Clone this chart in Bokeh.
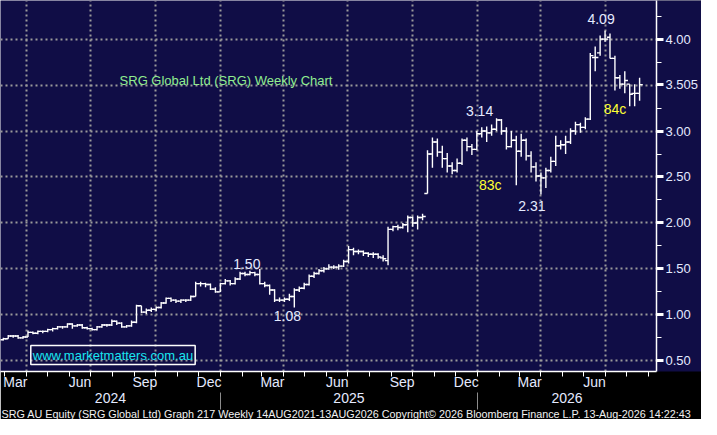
import pandas as pd
from bokeh.plotting import figure
from bokeh.models import (FixedTicker, SingleIntervalTicker, LinearAxis, Label, Title,
                          PrintfTickFormatter, Range1d, ColumnDataSource)
from bokeh.embed import file_html
from bokeh.resources import INLINE

# ---------------- data (weekly OHLC, SRG AU) ----------------
first_bar = "2024-02-28"
opens = [0.73, 0.74, 0.77, 0.77, 0.75, 0.76, 0.81, 0.80, 0.82, 0.82,
         0.84, 0.85, 0.87, 0.87, 0.90, 0.88, 0.89, 0.86, 0.85, 0.84,
         0.87, 0.89, 0.89, 0.93, 0.91, 0.87, 0.88, 0.92, 1.10, 1.03,
         1.05, 1.06, 1.08, 1.13, 1.18, 1.16, 1.15, 1.16, 1.16, 1.20,
         1.34, 1.34, 1.33, 1.28, 1.25, 1.34, 1.37, 1.34, 1.39, 1.45,
         1.44, 1.46, 1.44, 1.34, 1.32, 1.27, 1.16, 1.16, 1.17, 1.20,
         1.27, 1.29, 1.33, 1.42, 1.45, 1.48, 1.50, 1.52, 1.52, 1.53,
         1.58, 1.71, 1.69, 1.69, 1.67, 1.66, 1.66, 1.62, 1.59, 1.93,
         1.96, 1.95, 1.98, 2.06, 2.00, 2.06, 2.32, 2.75, 2.88, 2.77,
         2.70, 2.62, 2.57, 2.65, 2.90, 2.83, 2.80, 2.97, 3.00, 2.98,
         3.02, 3.12, 3.00, 2.83, 2.90, 2.78, 2.90, 2.73, 2.61, 2.51,
         2.49, 2.57, 2.67, 2.84, 2.85, 2.88, 3.00, 3.07, 3.04, 3.13,
         3.80, 3.85, 4.00, 4.02, 3.79, 3.58, 3.51, 3.51, 3.41, 3.41]
highs = [0.75, 0.78, 0.78, 0.78, 0.77, 0.83, 0.82, 0.83, 0.83, 0.85,
         0.86, 0.88, 0.88, 0.91, 0.91, 0.90, 0.90, 0.87, 0.86, 0.88,
         0.90, 0.90, 0.95, 0.94, 0.92, 0.89, 0.94, 1.11, 1.10, 1.07,
         1.08, 1.09, 1.14, 1.19, 1.19, 1.17, 1.17, 1.17, 1.21, 1.36,
         1.36, 1.35, 1.34, 1.30, 1.35, 1.39, 1.38, 1.41, 1.47, 1.47,
         1.48, 1.47, 1.50, 1.36, 1.33, 1.28, 1.19, 1.19, 1.23, 1.29,
         1.31, 1.35, 1.44, 1.47, 1.50, 1.52, 1.55, 1.54, 1.55, 1.60,
         1.75, 1.73, 1.71, 1.70, 1.68, 1.68, 1.67, 1.65, 1.96, 1.97,
         1.98, 2.00, 2.08, 2.07, 2.08, 2.10, 2.79, 2.93, 2.92, 2.84,
         2.76, 2.66, 2.70, 2.92, 2.93, 2.86, 3.00, 3.04, 3.05, 3.07,
         3.14, 3.13, 3.04, 3.00, 2.95, 2.97, 2.92, 2.78, 2.66, 2.55,
         2.60, 2.72, 2.95, 2.90, 2.95, 3.03, 3.10, 3.09, 3.15, 3.85,
         3.92, 4.04, 4.09, 4.06, 3.82, 3.61, 3.65, 3.51, 3.51, 3.58]
lows = [0.72, 0.74, 0.75, 0.74, 0.74, 0.76, 0.79, 0.79, 0.80, 0.81,
        0.82, 0.84, 0.85, 0.86, 0.85, 0.87, 0.85, 0.84, 0.83, 0.83,
        0.86, 0.87, 0.88, 0.89, 0.86, 0.86, 0.87, 0.91, 1.02, 1.01,
        1.03, 1.04, 1.07, 1.12, 1.14, 1.13, 1.13, 1.14, 1.15, 1.20,
        1.31, 1.30, 1.27, 1.24, 1.25, 1.33, 1.32, 1.33, 1.38, 1.42,
        1.43, 1.42, 1.33, 1.30, 1.22, 1.14, 1.14, 1.14, 1.15, 1.08,
        1.25, 1.28, 1.32, 1.40, 1.44, 1.46, 1.49, 1.50, 1.49, 1.52,
        1.56, 1.65, 1.66, 1.64, 1.63, 1.62, 1.61, 1.58, 1.54, 1.91,
        1.92, 1.94, 1.90, 1.96, 1.93, 2.03, 2.32, 2.60, 2.72, 2.60,
        2.55, 2.53, 2.55, 2.63, 2.78, 2.74, 2.79, 2.93, 2.88, 2.95,
        3.00, 2.96, 2.80, 2.82, 2.41, 2.72, 2.68, 2.55, 2.45, 2.31,
        2.38, 2.55, 2.62, 2.80, 2.75, 2.86, 2.96, 2.98, 3.02, 3.12,
        3.65, 3.82, 3.97, 3.79, 3.44, 3.46, 3.41, 3.27, 3.27, 3.33]
closes = [0.74, 0.77, 0.77, 0.75, 0.76, 0.81, 0.80, 0.82, 0.82, 0.84,
          0.85, 0.87, 0.87, 0.90, 0.88, 0.89, 0.86, 0.85, 0.84, 0.87,
          0.89, 0.89, 0.93, 0.91, 0.87, 0.88, 0.92, 1.10, 1.03, 1.05,
          1.06, 1.08, 1.13, 1.18, 1.16, 1.15, 1.16, 1.16, 1.20, 1.34,
          1.34, 1.33, 1.28, 1.25, 1.34, 1.37, 1.34, 1.39, 1.45, 1.44,
          1.46, 1.44, 1.34, 1.32, 1.27, 1.16, 1.16, 1.17, 1.20, 1.27,
          1.29, 1.33, 1.42, 1.45, 1.48, 1.50, 1.52, 1.52, 1.53, 1.58,
          1.71, 1.69, 1.69, 1.67, 1.66, 1.66, 1.63, 1.61, 1.93, 1.96,
          1.95, 1.98, 2.06, 2.00, 2.06, 2.07, 2.75, 2.88, 2.77, 2.70,
          2.62, 2.57, 2.65, 2.90, 2.83, 2.80, 2.97, 3.00, 2.98, 3.02,
          3.12, 3.00, 2.83, 2.90, 2.78, 2.90, 2.73, 2.61, 2.51, 2.49,
          2.57, 2.67, 2.84, 2.85, 2.88, 3.00, 3.07, 3.04, 3.13, 3.82,
          3.80, 4.00, 4.00, 3.79, 3.58, 3.51, 3.55, 3.40, 3.41, 3.505]

last_price = 3.505
price_ticks = [0.5, 1.0, 1.5, 2.0, 2.5, 3.0, 4.0]
price_minor = [0.75, 1.25, 1.75, 2.25, 2.75, 3.25, 3.75, 4.25]
month_names = {3: "Mar", 6: "Jun", 9: "Sep", 12: "Dec"}
year_labels = ["2024", "2025", "2026"]
title_text = "SRG Global Ltd (SRG) Weekly Chart"
site_text = "www.marketmatters.com.au"
move_labels = ["83c", "84c"]
footer = ("SRG AU Equity (SRG Global Ltd) Graph 217 Weekly 14AUG2021-13AUG2026 "
          "Copyright\u00a9 2026 Bloomberg Finance L.P. 13-Aug-2026 14:22:43")

# ---------------- styling ----------------
NAVY = "#100d46"
TXT = "#e4eaff"
FONT = "Liberation Sans"

dates = pd.date_range(first_bar, periods=len(closes), freq="7D")
x_start = pd.Timestamp("2024-02-24")
x_end = pd.Timestamp("2026-09-12")


def ms(t):
    return float(pd.Timestamp(t).value // 10**6)


p = figure(width=701, height=419, x_axis_type="datetime", y_axis_location="right",
           x_range=Range1d(x_start, x_end), y_range=Range1d(0.384, 4.42),
           output_backend="svg", toolbar_location=None,
           min_border_left=0, min_border_top=0, min_border_right=42, min_border_bottom=0)
p.background_fill_color = NAVY
p.border_fill_color = "black"
p.outline_line_color = None

# grids
quarters = [ms(d) for d in pd.date_range("2024-01-01", "2026-12-01", freq="QS")]
p.xgrid.ticker = FixedTicker(ticks=quarters)
p.ygrid.ticker = SingleIntervalTicker(interval=0.5)
for g in (p.xgrid[0], p.ygrid[0]):
    g.grid_line_color = "#9a9a9a"
    g.grid_line_dash = "2 3"
    g.grid_line_width = 2

# right price axis (last price takes the place of the 3.50 label)
ya = p.yaxis[0]
ya.ticker = FixedTicker(ticks=sorted(price_ticks + [last_price]), minor_ticks=price_minor)
ya.formatter = PrintfTickFormatter(format="%.2f")
ya.major_label_overrides = {last_price: f"{last_price:.3f}"}
ya.axis_line_color = "white"
ya.axis_line_width = 1.5
ya.major_tick_out = 7
ya.major_tick_in = 0
ya.major_tick_line_width = 3
ya.major_tick_line_color = "white"
ya.minor_tick_out = 5
ya.minor_tick_in = 0
ya.minor_tick_line_color = "white"
ya.major_label_text_color = TXT
ya.major_label_text_font = FONT
ya.major_label_text_font_size = "13px"
ya.major_label_standoff = 2
ya.background_fill_color = NAVY

# month axis
months = pd.date_range("2024-03-01", "2026-09-01", freq="MS")
lab_pos = [m + pd.Timedelta(days=15) for m in months if m.month in month_names]
xa = p.xaxis[0]
xa.ticker = FixedTicker(ticks=[ms(d) for d in lab_pos], minor_ticks=[ms(m) for m in months])
xa.major_label_overrides = {ms(d): month_names[d.month] for d in lab_pos}
xa.axis_line_color = "white"
xa.axis_line_width = 1.5
xa.major_tick_out = 0
xa.major_tick_in = 0
xa.minor_tick_out = 5
xa.minor_tick_in = 0
xa.minor_tick_line_color = "white"
xa.major_label_text_color = TXT
xa.major_label_text_font = FONT
xa.major_label_text_font_size = "14px"
xa.major_label_standoff = -3

# year axis
bounds = [pd.Timestamp("2025-01-01"), pd.Timestamp("2026-01-01")]
edges = [x_start] + bounds + [x_end]
year_pos = [ms(edges[i]) / 2 + ms(edges[i + 1]) / 2 for i in range(len(year_labels))]
ya2 = LinearAxis(ticker=FixedTicker(ticks=year_pos, minor_ticks=[ms(b) for b in bounds]),
                 major_label_overrides={year_pos[i]: year_labels[i] for i in range(len(year_labels))})
ya2.axis_line_color = None
ya2.major_tick_line_color = None
ya2.major_tick_out = 0
ya2.minor_tick_out = 17
ya2.minor_tick_in = 0
ya2.minor_tick_line_color = "#8c8c8c"
ya2.minor_tick_line_width = 1
ya2.major_label_text_color = TXT
ya2.major_label_text_font = FONT
ya2.major_label_text_font_size = "14px"
ya2.major_label_standoff = -17
p.add_layout(ya2, "below")

p.add_layout(Title(text=footer, align="left", text_color="#f0f0f0", text_font=FONT,
                   text_font_size="10.8px", text_font_style="normal", text_line_height=1.0,
                   standoff=0, offset=1), "below")

# OHLC bars
tick = pd.Timedelta(days=4.5)
src = ColumnDataSource(dict(x=dates, xl=dates - tick, xr=dates + tick,
                            o=opens, h=highs, l=lows, c=closes))
p.segment(x0="x", y0="l", x1="x", y1="h", source=src, line_color="white", line_width=1.4)
p.segment(x0="xl", y0="o", x1="x", y1="o", source=src, line_color="white", line_width=1.4)
p.segment(x0="x", y0="c", x1="xr", y1="c", source=src, line_color="white", line_width=1.4)


def lab(x, y, text, color=TXT, size="14px", **kw):
    p.add_layout(Label(x=x, y=y, text=text, text_color=color, text_font=FONT,
                       text_font_size=size, **kw))


# peak / trough annotations
i_top = highs.index(max(highs))
i_314 = highs.index(3.14)
i_231 = lows.index(2.31)
i_150 = highs.index(1.50)
i_108 = lows.index(1.08)
lab(dates[i_top], highs[i_top], f"{highs[i_top]:.2f}", text_align="center", text_baseline="bottom",
    x_offset=-4, y_offset=7)
lab(dates[i_314], highs[i_314], f"{highs[i_314]:.2f}", text_align="center", text_baseline="bottom",
    x_offset=-17, y_offset=2)
lab(dates[i_231], lows[i_231], f"{lows[i_231]:.2f}", text_align="center", text_baseline="top",
    x_offset=-9, y_offset=-7)
lab(dates[i_150], highs[i_150], f"{highs[i_150]:.2f}", text_align="center", text_baseline="bottom",
    x_offset=-13, y_offset=0)
lab(dates[i_108], lows[i_108], f"{lows[i_108]:.2f}", text_align="center", text_baseline="top",
    x_offset=-7, y_offset=-3)

lab(pd.Timestamp("2026-01-19"), 2.413, move_labels[0], color="#ffff33",
    text_align="center", text_baseline="middle")
lab(pd.Timestamp("2026-07-15"), 3.243, move_labels[1], color="#ffff33",
    text_align="center", text_baseline="middle")

lab(pd.Timestamp("2024-08-11"), 3.553, title_text, color="#90ee90", size="13px",
    text_align="left", text_baseline="middle")

p.add_layout(Label(x=pd.Timestamp("2024-04-07"), y=0.563, text=site_text, text_color="#19e6f0",
                   text_font=FONT, text_font_size="13px", text_align="left", text_baseline="middle",
                   border_line_color="white", border_line_width=1.5, padding=2))

open("out.html", "w").write(file_html(p, INLINE))
